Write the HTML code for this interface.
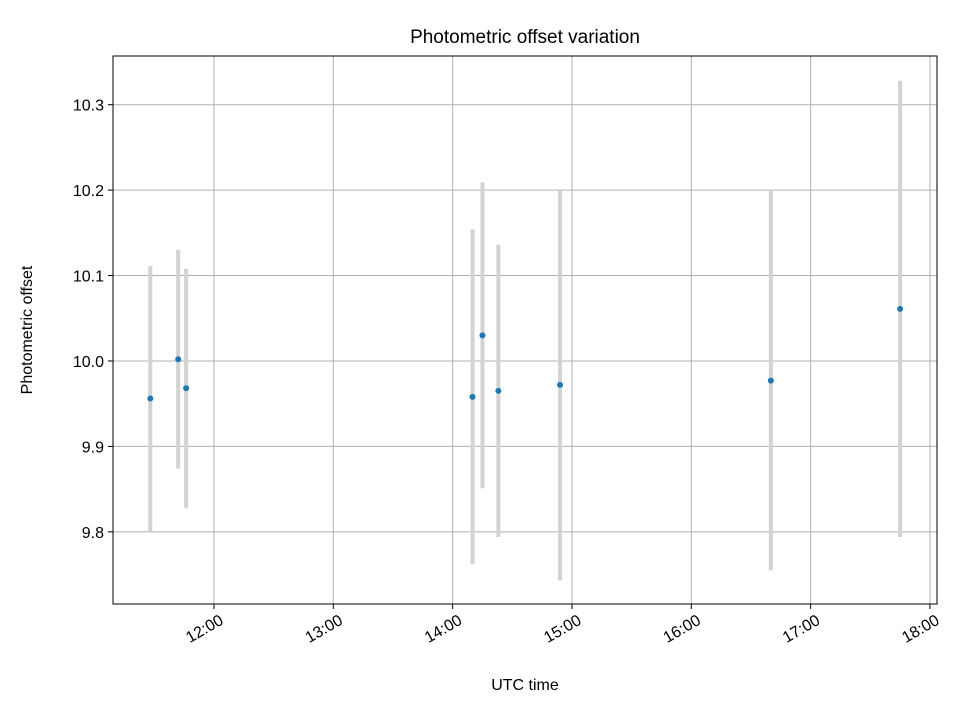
<!DOCTYPE html>
<html><head><meta charset="utf-8"><style>
body{margin:0;background:#fff;}
svg text{font-family:"Liberation Sans","DejaVu Sans",sans-serif;fill:#000;}
</style></head><body>
<svg id="chart" width="960" height="720" xmlns="http://www.w3.org/2000/svg">
<rect width="960" height="720" fill="#fff"/>
<g id="grid"></g><g id="marks"></g><g id="axes"></g>
</svg>
<script>
const times = ["11:28","11:42","11:46","14:10","14:15","14:23","14:54","16:40","17:45"];
const offsets = [9.956,10.002,9.968,9.958,10.030,9.965,9.972,9.977,10.061];
const errors = [0.155,0.128,0.14,0.196,0.179,0.171,0.229,0.222,0.267];
const xTickLabels = ["12:00","13:00","14:00","15:00","16:00","17:00","18:00"];
const yTickLabels = ["9.8","9.9","10.0","10.1","10.2","10.3"];

const L=113,R=937,T=56,B=604;
const xMin=11.154,xMax=18.059,yMin=9.7155,yMax=10.357;
const h=s=>{const p=s.split(':');return +p[0]+p[1]/60;};
const X=t=>L+(t-xMin)/(xMax-xMin)*(R-L);
const Y=v=>B-(v-yMin)/(yMax-yMin)*(B-T);
const NS="http://www.w3.org/2000/svg";
function mk(tag,attrs,parent){const e=document.createElementNS(NS,tag);for(const k in attrs)e.setAttribute(k,attrs[k]);parent.appendChild(e);return e;}
const grid=document.getElementById('grid'),marks=document.getElementById('marks'),axes=document.getElementById('axes');

xTickLabels.forEach(lb=>{
  const x=X(h(lb));
  const g=mk('line',{x1:x,x2:x,y1:T,y2:B,stroke:'#b0b0b0','stroke-width':1},grid);
  
  
  const t=mk('line',{x1:x,x2:x,y1:B,y2:B+5,stroke:'#000','stroke-width':1},axes);
  
  
  const tx=mk('text',{x:0,y:13,'font-size':16,'text-anchor':'end',transform:`translate(${x+4} ${B+8}) rotate(-30)`},axes);
  tx.textContent=lb;
  
  
});
yTickLabels.forEach(lb=>{
  const y=Y(+lb);
  const g=mk('line',{x1:L,x2:R,y1:y,y2:y,stroke:'#b0b0b0','stroke-width':1},grid);
  
  
  const t=mk('line',{x1:L-5,x2:L,y1:y,y2:y,stroke:'#000','stroke-width':1},axes);
  
  
  const tx=mk('text',{x:L-9,y:y+6,'font-size':16,'text-anchor':'end'},axes);
  tx.textContent=lb;
  
  
});
times.forEach((tm,i)=>{
  const x=X(h(tm));
  const eb=mk('line',{x1:x,x2:x,y1:Y(offsets[i]+errors[i]),y2:Y(offsets[i]-errors[i]),stroke:'#d3d3d3','stroke-width':4},marks);
  
  
});
times.forEach((tm,i)=>{
  const p=mk('circle',{cx:X(h(tm)),cy:Y(offsets[i]),r:3,fill:'#1f77b4'},marks);
  
  
});
const fr=mk('rect',{x:L,y:T,width:R-L,height:B-T,fill:'none',stroke:'#000','stroke-width':1},axes);


const ti=mk('text',{x:(L+R)/2,y:43,'font-size':19,'text-anchor':'middle'},axes);
ti.textContent='Photometric offset variation';


const xl=mk('text',{x:(L+R)/2,y:690,'font-size':16,'text-anchor':'middle'},axes);
xl.textContent='UTC time';


const yl=mk('text',{x:32,y:(T+B)/2,'font-size':16,'text-anchor':'middle',transform:`rotate(-90 32 ${(T+B)/2})`},axes);
yl.textContent='Photometric offset';


</script>
</body></html>
